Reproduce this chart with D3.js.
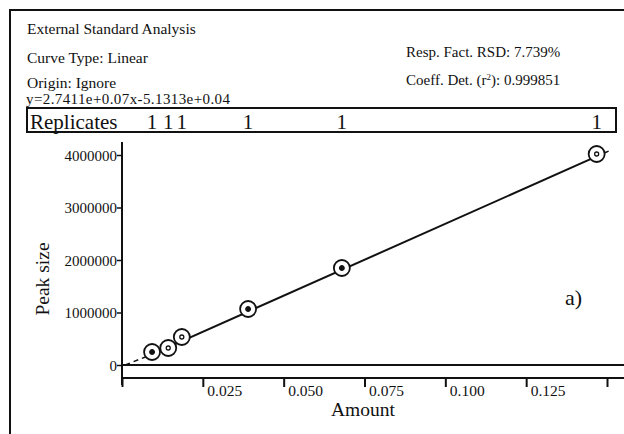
<!DOCTYPE html>
<html><head><meta charset="utf-8">
<script src="https://cdn.jsdelivr.net/npm/d3@7"></script>
<style>
body{margin:0;background:#fff;}
svg text{font-family:"Liberation Serif","Times New Roman",serif;fill:#111;}
</style></head>
<body>
<svg id="c" width="624" height="434"></svg>
<script>
// Data
const amounts = [0.0093, 0.0143, 0.0185, 0.0390, 0.0680, 0.1468];
const peakSizes = [248000, 324000, 533000, 1067000, 1848000, 4019000];
const replicates = [1, 1, 1, 1, 1, 1];
const dotStyle = ["fill", "ring", "ring", "fill", "fill", "ring"];
const slope = 2.7411e7, intercept = -5.1313e4;
const yTicks = [0, 1000000, 2000000, 3000000, 4000000];
const xTicks = [0, 0.025, 0.05, 0.075, 0.1, 0.125, 0.15];
const xTickLabels = ["", "0.025", "0.050", "0.075", "0.100", "0.125", ""];
const headerLeft = ["External Standard Analysis", "Curve Type: Linear", "Origin: Ignore"];
const equation = "y=2.7411e+0.07x-5.1313e+0.04";

const svg = d3.select("#c");
const x = d3.scaleLinear().domain([0, 0.15]).range([122, 607]);
const y = d3.scaleLinear().domain([0, 4000000]).range([365, 155]);

// outer frame
svg.append("path").attr("d","M10,434 L10,10 L624,10").attr("fill","none").attr("stroke","#111").attr("stroke-width",2);

// header texts
const hy = [34, 63, 88];
headerLeft.forEach((t,i)=>svg.append("text").attr("x",27).attr("y",hy[i]).attr("font-size",15.5).text(t));
svg.append("text").attr("x",26).attr("y",104).attr("font-size",15).attr("textLength",204).text(equation);
svg.append("text").attr("x",406).attr("y",57).attr("font-size",15).text("Resp. Fact. RSD: 7.739%");
const ct = svg.append("text").attr("x",406).attr("y",85).attr("font-size",15);
ct.append("tspan").text("Coeff. Det. (r");
ct.append("tspan").attr("font-size",9).attr("dy",-5).text("2");
ct.append("tspan").attr("dy",5).text("): 0.999851");

// replicates box
svg.append("rect").attr("x",27).attr("y",108).attr("width",589).attr("height",24)
  .attr("fill","none").attr("stroke","#111").attr("stroke-width",2);
svg.append("text").attr("x",30).attr("y",129).attr("font-size",21).text("Replicates");
svg.selectAll(".rep").data(amounts).enter().append("text")
  .attr("x",d=>x(d)).attr("y",129).attr("font-size",21).attr("text-anchor","middle")
  .text((d,i)=>replicates[i]);

// y axis
const yAxis = svg.append("g").attr("transform","translate(122,0)")
  .call(d3.axisLeft(y).tickValues(yTicks).tickSize(5).tickFormat(d3.format("d")));
yAxis.select(".domain").remove();
yAxis.selectAll("line").attr("stroke","#111").attr("stroke-width",1.5);
yAxis.selectAll("text").attr("font-size",15).attr("font-family","Liberation Serif, serif").attr("fill","#111").attr("dy","0.35em").attr("x",-5);
svg.append("line").attr("x1",122).attr("x2",122).attr("y1",y(4250000)).attr("y2",y(-380000))
  .attr("stroke","#111").attr("stroke-width",2);

// zero line
svg.append("line").attr("x1",x(0)).attr("x2",624).attr("y1",y(0)).attr("y2",y(0))
  .attr("stroke","#111").attr("stroke-width",2);

// x axis
const xAxisY = 378;
const xAxis = svg.append("g").attr("transform",`translate(0,${xAxisY})`)
  .call(d3.axisBottom(x).tickValues(xTicks).tickSize(9).tickFormat((d,i)=>xTickLabels[i]));
xAxis.select(".domain").attr("d",`M${x(0)},0H624`).attr("stroke","#111").attr("stroke-width",2);
xAxis.selectAll("line").attr("stroke","#111").attr("stroke-width",2);
xAxis.selectAll("text").attr("font-size",15.5).attr("font-family","Liberation Serif, serif").attr("fill","#111")
  .attr("text-anchor","start").attr("x",4).attr("y",7).attr("dy","0.71em");

// axis titles
svg.append("text").attr("x",363).attr("y",416).attr("font-size",19.5).attr("text-anchor","middle").text("Amount");
svg.append("text").attr("transform","translate(49,279) rotate(-90)").attr("font-size",19.5).attr("text-anchor","middle").text("Peak size");
svg.append("text").attr("x",565).attr("y",305).attr("font-size",22).text("a)");

// regression line
const f = v => slope*v + intercept;
const xmin = d3.min(amounts), xmax = d3.max(amounts);
svg.append("line").attr("x1",x(0.001)).attr("y1",y(Math.max(0,f(0.001)))).attr("x2",x(xmin)).attr("y2",y(f(xmin)))
  .attr("stroke","#111").attr("stroke-width",1.5).attr("stroke-dasharray","5,4");
svg.append("line").attr("x1",x(xmax)).attr("y1",y(f(xmax))).attr("x2",x(0.1505)).attr("y2",y(f(0.1505)))
  .attr("stroke","#111").attr("stroke-width",1.5).attr("stroke-dasharray","5,4");
svg.append("line").attr("x1",x(xmin)).attr("y1",y(f(xmin))).attr("x2",x(xmax)).attr("y2",y(f(xmax)))
  .attr("stroke","#111").attr("stroke-width",2);

// points
const pts = svg.selectAll(".pt").data(amounts).enter().append("g")
  .attr("transform",(d,i)=>`translate(${x(d)},${y(peakSizes[i])})`);
pts.append("circle").attr("r",8).attr("fill","#fff").attr("stroke","#111").attr("stroke-width",1.8);
pts.append("circle").attr("r",(d,i)=>dotStyle[i]==="fill"?2.3:2)
  .attr("fill",(d,i)=>dotStyle[i]==="fill"?"#111":"#fff").attr("stroke","#111").attr("stroke-width",1.3);
</script>
</body></html>
